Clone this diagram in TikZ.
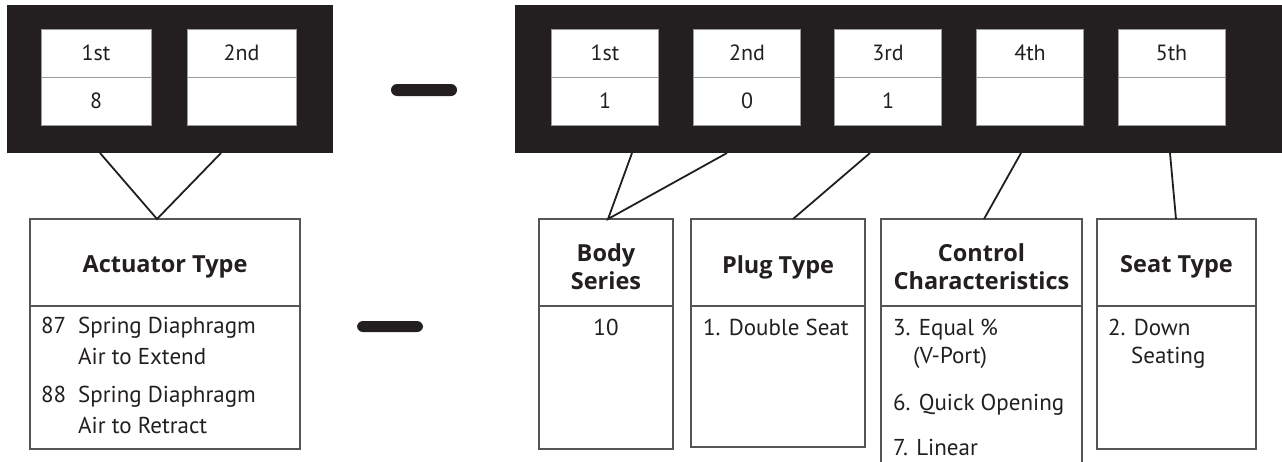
\documentclass[tikz,border=0pt]{standalone}
\usepackage{fontspec}
\setmainfont{PT Sans}
\newfontfamily\hdrfont{Open Sans}
\usetikzlibrary{calc}
\definecolor{ink}{HTML}{231F20}
\definecolor{frame}{HTML}{555555}
\definecolor{cellline}{HTML}{9A9A9A}
\begin{document}
\begin{tikzpicture}[x=1pt,y=-1pt,
  blackbox/.style={fill=ink,draw=none,inner sep=0,outer sep=0,minimum height=148pt},
  cellbox/.style={draw=cellline,fill=white,line width=0.8pt,inner sep=0,outer sep=0,minimum height=48pt,minimum width=107pt,text=ink,font=\fontsize{22}{24}\selectfont},
  hdrbox/.style={draw=frame,line width=1.2pt,inner sep=0,outer sep=0,minimum height=87pt},
  hdrtext/.style={inner sep=0,text=ink,align=center,font=\hdrfont\bfseries\fontsize{23.5}{28}\selectfont},
  bodybox/.style={draw=frame,line width=1.2pt,inner sep=0,outer sep=0},
  itemtext/.style={anchor=base west,inner sep=0,text=ink,font=\fontsize{23}{26}\selectfont},
  dashbar/.style={fill=ink,draw=none,rounded corners=6pt,minimum width=66pt,minimum height=12pt,inner sep=0},
  conn/.style={draw=ink,line width=1.8pt}
]
\useasboundingbox[fill=white] (0,0) rectangle (1282,461);

% black code frames
\node[blackbox,minimum width=326pt] (lb) at (170,79) {};
\node[blackbox,minimum width=767pt] (rb) at (898.5,79) {};

% left cells
\node[cellbox,minimum width=110pt] (l1t) at (96,53) {1st};
\node[cellbox,minimum width=110pt] (l1b) at (96,101) {8};
\node[cellbox,minimum width=109pt] (l2t) at (241.5,53) {2nd};
\node[cellbox,minimum width=109pt] (l2b) at (241.5,101) {};

% right cells
\node[cellbox] (r1t) at (605,53) {1st};
\node[cellbox] (r1b) at (605,101) {1};
\node[cellbox] (r2t) at (747,53) {2nd};
\node[cellbox] (r2b) at (747,101) {0};
\node[cellbox] (r3t) at (888,53) {3rd};
\node[cellbox] (r3b) at (888,101) {1};
\node[cellbox] (r4t) at (1030,53) {4th};
\node[cellbox] (r4b) at (1030,101) {};
\node[cellbox] (r5t) at (1171.5,53) {5th};
\node[cellbox] (r5b) at (1171.5,101) {};

% dashes
\node[dashbar] (d1) at (424,90) {};
\node[dashbar,minimum height=11pt] (d2) at (390,326.5) {};

% Actuator Type
\node[hdrbox,minimum width=270pt] (acth) at (165,262.5) {};
\node[hdrtext] (actt) at (165,267) {Actuator Type};
\node[bodybox,minimum width=270pt,minimum height=143pt] (actb) at (165,377.5) {};
\node[itemtext] (a87) at (41,333) {87};
\node[itemtext] (a87a) at (78,333) {Spring Diaphragm};
\node[itemtext] (a87b) at (78,364) {Air to Extend};
\node[itemtext] (a88) at (41,402) {88};
\node[itemtext] (a88a) at (78,402) {Spring Diaphragm};
\node[itemtext] (a88b) at (78,433) {Air to Retract};

% Body Series
\node[hdrbox,minimum width=134pt] (bsh) at (606,262.5) {};
\node[hdrtext] (bst) at (606,267) {Body\\Series};
\node[bodybox,minimum width=134pt,minimum height=143pt] (bsb) at (606,377.5) {};
\node[itemtext,anchor=base] (b10) at (606,335) {10};

% Plug Type
\node[hdrbox,minimum width=174pt] (pth) at (778,262.5) {};
\node[hdrtext] (ptt) at (778,267) {Plug Type};
\node[bodybox,minimum width=174pt,minimum height=141pt] (ptb) at (778,376.5) {};
\node[itemtext] (p1) at (703,335) {1. Double Seat};

% Control Characteristics
\node[hdrbox,minimum width=201pt] (cch) at (981.5,262.5) {};
\node[hdrtext] (cct) at (981.5,267) {Control\\Characteristics};
\draw[draw=frame,line width=1.2pt] (cch.south west) -- ++(0,170) (cch.south east) -- ++(0,170);
\node[itemtext] (c3) at (893,335) {3. Equal \%};
\node[itemtext] (c3b) at (913,363) {(V-Port)};
\node[itemtext] (c6) at (893,410) {6. Quick Opening};
\node[itemtext] (c7) at (893,455) {7. Linear};

% Seat Type
\node[hdrbox,minimum width=159pt] (sth) at (1176.5,262.5) {};
\node[hdrtext] (stt) at (1176.5,267) {Seat Type};
\node[bodybox,minimum width=159pt,minimum height=143pt] (stb) at (1176.5,377.5) {};
\node[itemtext] (s2) at (1108,335) {2. Down};
\node[itemtext] (s2b) at (1131,363) {Seating};

% connector end points
\coordinate (la1) at (100,153);
\coordinate (la2) at (221,153);
\coordinate (ta) at (157,219);
\coordinate (ra1) at (632,153);
\coordinate (ra2) at (727,153);
\coordinate (ra3) at (870,153);
\coordinate (ra4) at (1021,153);
\coordinate (ra5) at (1170,153);
\coordinate (tb) at (608,219);
\coordinate (tp) at (793,219);
\coordinate (tc) at (984,219);
\coordinate (ts) at (1176,219);

\draw[conn] (la1) -- (ta) -- (la2);
\draw[conn] (ra1) -- (tb) -- (ra2);
\draw[conn] (ra3) -- (tp);
\draw[conn] (ra4) -- (tc);
\draw[conn] (ra5) -- (ts);
\end{tikzpicture}
\end{document}
